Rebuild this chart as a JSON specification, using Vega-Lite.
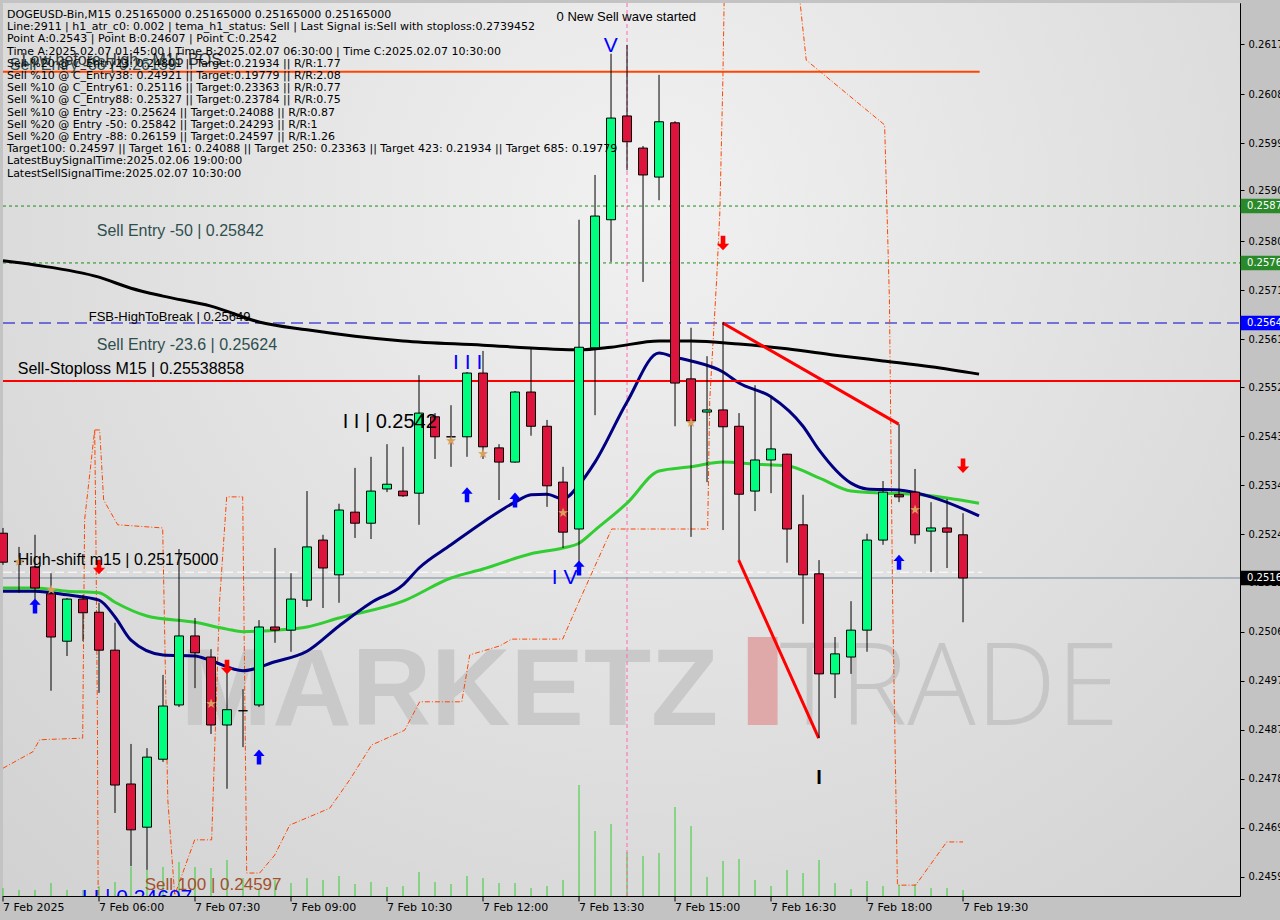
{
"$schema": "https://vega.github.io/schema/vega-lite/v6.json",
"width": 1237, "height": 893,
"autosize": {"type": "none"},
"padding": {"left": 3, "top": 3, "right": 40, "bottom": 24},
"background": "#c3c3c3",
"config": {"view": {"stroke": "#000000", "strokeWidth": 1, "fill": "#e3e3e3"}, "font": "Liberation Sans"},
"datasets": {
"candles": [
{"k":0,"o":0.25250,"h":0.25260,"l":0.25190,"c":0.25195},
{"k":1,"o":0.25197,"h":0.25224,"l":0.25137,"c":0.25196},
{"k":2,"o":0.25186,"h":0.25247,"l":0.25125,"c":0.25146},
{"k":3,"o":0.25135,"h":0.25174,"l":0.24951,"c":0.25053},
{"k":4,"o":0.25045,"h":0.25127,"l":0.25017,"c":0.25125},
{"k":5,"o":0.25125,"h":0.25133,"l":0.25045,"c":0.25099},
{"k":6,"o":0.25100,"h":0.25118,"l":0.24947,"c":0.25028},
{"k":7,"o":0.25028,"h":0.25080,"l":0.24719,"c":0.24772},
{"k":8,"o":0.24774,"h":0.24850,"l":0.24618,"c":0.24687},
{"k":9,"o":0.24692,"h":0.24842,"l":0.24611,"c":0.24825},
{"k":10,"o":0.24821,"h":0.24981,"l":0.24816,"c":0.24922},
{"k":11,"o":0.24924,"h":0.25220,"l":0.24920,"c":0.25055},
{"k":12,"o":0.25055,"h":0.25089,"l":0.24956,"c":0.25023},
{"k":13,"o":0.25015,"h":0.25030,"l":0.24869,"c":0.24886},
{"k":14,"o":0.24886,"h":0.24989,"l":0.24765,"c":0.24915},
{"k":15,"o":0.24913,"h":0.24954,"l":0.24844,"c":0.24913},
{"k":16,"o":0.24924,"h":0.25085,"l":0.24920,"c":0.25072},
{"k":17,"o":0.25072,"h":0.25222,"l":0.25042,"c":0.25066},
{"k":18,"o":0.25066,"h":0.25174,"l":0.25025,"c":0.25125},
{"k":19,"o":0.25123,"h":0.25330,"l":0.25110,"c":0.25224},
{"k":20,"o":0.25237,"h":0.25247,"l":0.25108,"c":0.25184},
{"k":21,"o":0.25171,"h":0.25306,"l":0.25118,"c":0.25294},
{"k":22,"o":0.25290,"h":0.25374,"l":0.25241,"c":0.25269},
{"k":23,"o":0.25269,"h":0.25395,"l":0.25239,"c":0.25330},
{"k":24,"o":0.25334,"h":0.25419,"l":0.25328,"c":0.25343},
{"k":25,"o":0.25330,"h":0.25414,"l":0.25319,"c":0.25321},
{"k":26,"o":0.25326,"h":0.25550,"l":0.25266,"c":0.25478},
{"k":27,"o":0.25471,"h":0.25478,"l":0.25391,"c":0.25433},
{"k":28,"o":0.25433,"h":0.25493,"l":0.25376,"c":0.25433},
{"k":29,"o":0.25433,"h":0.25556,"l":0.25395,"c":0.25554},
{"k":30,"o":0.25554,"h":0.25596,"l":0.25391,"c":0.25414},
{"k":31,"o":0.25412,"h":0.25419,"l":0.25313,"c":0.25385},
{"k":32,"o":0.25385,"h":0.25520,"l":0.25384,"c":0.25518},
{"k":33,"o":0.25518,"h":0.25602,"l":0.25435,"c":0.25453},
{"k":34,"o":0.25453,"h":0.25465,"l":0.25300,"c":0.25340},
{"k":35,"o":0.25347,"h":0.25376,"l":0.25222,"c":0.25252},
{"k":36,"o":0.25258,"h":0.25845,"l":0.25180,"c":0.25603},
{"k":37,"o":0.25602,"h":0.25930,"l":0.25474,"c":0.25852},
{"k":38,"o":0.25845,"h":0.26160,"l":0.25765,"c":0.26038},
{"k":39,"o":0.26042,"h":0.26177,"l":0.25939,"c":0.25993},
{"k":40,"o":0.25981,"h":0.25985,"l":0.25727,"c":0.25930},
{"k":41,"o":0.25926,"h":0.26120,"l":0.25882,"c":0.26031},
{"k":42,"o":0.26029,"h":0.26032,"l":0.25453,"c":0.25535},
{"k":43,"o":0.25543,"h":0.25640,"l":0.25243,"c":0.25463},
{"k":44,"o":0.25480,"h":0.25586,"l":0.25347,"c":0.25484},
{"k":45,"o":0.25484,"h":0.25651,"l":0.25256,"c":0.25452},
{"k":46,"o":0.25453,"h":0.25478,"l":0.25199,"c":0.25324},
{"k":47,"o":0.25330,"h":0.25531,"l":0.25292,"c":0.25389},
{"k":48,"o":0.25389,"h":0.25509,"l":0.25326,"c":0.25410},
{"k":49,"o":0.25400,"h":0.25401,"l":0.25194,"c":0.25258},
{"k":50,"o":0.25266,"h":0.25323,"l":0.25078,"c":0.25171},
{"k":51,"o":0.25173,"h":0.25199,"l":0.24861,"c":0.24983},
{"k":52,"o":0.24983,"h":0.25053,"l":0.24937,"c":0.25021},
{"k":53,"o":0.25015,"h":0.25121,"l":0.24983,"c":0.25066},
{"k":54,"o":0.25066,"h":0.25249,"l":0.25025,"c":0.25237},
{"k":55,"o":0.25237,"h":0.25349,"l":0.25228,"c":0.25328},
{"k":56,"o":0.25323,"h":0.25457,"l":0.25309,"c":0.25319},
{"k":57,"o":0.25328,"h":0.25372,"l":0.25230,"c":0.25247},
{"k":58,"o":0.25254,"h":0.25309,"l":0.25176,"c":0.25260},
{"k":59,"o":0.25260,"h":0.25315,"l":0.25184,"c":0.25252},
{"k":60,"o":0.25247,"h":0.25288,"l":0.25081,"c":0.25165}
],
"vol": [
{"k":0,"v":8},{"k":1,"v":6},{"k":2,"v":6},{"k":3,"v":13},{"k":4,"v":6},{"k":5,"v":6},{"k":6,"v":10},{"k":7,"v":14},{"k":8,"v":29},{"k":9,"v":26},
{"k":10,"v":29},{"k":11,"v":34},{"k":12,"v":29},{"k":13,"v":28},{"k":14,"v":36},{"k":15,"v":18},{"k":16,"v":6},{"k":17,"v":16},{"k":18,"v":13},{"k":19,"v":18},
{"k":20,"v":16},{"k":21,"v":20},{"k":22,"v":12},{"k":23,"v":14},{"k":24,"v":9},{"k":25,"v":10},{"k":26,"v":24},{"k":27,"v":14},{"k":28,"v":12},{"k":29,"v":20},
{"k":30,"v":18},{"k":31,"v":13},{"k":32,"v":13},{"k":33,"v":8},{"k":34,"v":10},{"k":35,"v":16},{"k":36,"v":111},{"k":37,"v":65},{"k":38,"v":72},{"k":39,"v":44},
{"k":40,"v":40},{"k":41,"v":43},{"k":42,"v":89},{"k":43,"v":70},{"k":44,"v":19},{"k":45,"v":35},{"k":46,"v":37},{"k":47,"v":16},{"k":48,"v":10},{"k":49,"v":26},
{"k":50,"v":23},{"k":51,"v":36},{"k":52,"v":13},{"k":53,"v":7},{"k":54,"v":15},{"k":55,"v":10},{"k":56,"v":11},{"k":57,"v":12},{"k":58,"v":8},{"k":59,"v":8},{"k":60,"v":6}
],
"ma200": [
{"k":0,"p":0.25767},{"k":2,"p":0.25759},{"k":6,"p":0.25736},{"k":8,"p":0.25715},{"k":10,"p":0.25700},{"k":13,"p":0.25681},{"k":16,"p":0.25651},{"k":19,"p":0.25636},{"k":22,"p":0.25624},{"k":25,"p":0.25615},{"k":30,"p":0.25607},{"k":34,"p":0.25600},{"k":36,"p":0.25598},{"k":38,"p":0.25603},{"k":41,"p":0.25615},{"k":43,"p":0.25615},{"k":46,"p":0.25609},{"k":49,"p":0.25600},{"k":52,"p":0.25588},{"k":55,"p":0.25577},{"k":58,"p":0.25566},{"k":61,"p":0.25552}
],
"manavy": [
{"k":0,"p":0.25140},{"k":2,"p":0.25140},{"k":4,"p":0.25133},{"k":6,"p":0.25123},{"k":7,"p":0.25091},{"k":8,"p":0.25047},{"k":10,"p":0.25019},{"k":12,"p":0.25017},{"k":13,"p":0.25008},{"k":15,"p":0.24989},{"k":17,"p":0.25006},{"k":19,"p":0.25026},{"k":21,"p":0.25074},{"k":23,"p":0.25118},{"k":25,"p":0.25152},{"k":26,"p":0.25184},{"k":28,"p":0.25228},{"k":30,"p":0.25271},{"k":32,"p":0.25309},{"k":33,"p":0.25323},{"k":34,"p":0.25324},{"k":35,"p":0.25315},{"k":36,"p":0.25342},{"k":37,"p":0.25385},{"k":39,"p":0.25499},{"k":41,"p":0.25592},{"k":42,"p":0.25584},{"k":43,"p":0.25577},{"k":45,"p":0.25556},{"k":46,"p":0.25535},{"k":48,"p":0.25509},{"k":50,"p":0.25453},{"k":51,"p":0.25408},{"k":53,"p":0.25345},{"k":54,"p":0.25334},{"k":56,"p":0.25332},{"k":58,"p":0.25319},{"k":61,"p":0.25283}
],
"magreen": [
{"k":0,"p":0.25146},{"k":2,"p":0.25146},{"k":4,"p":0.25140},{"k":6,"p":0.25137},{"k":7,"p":0.25119},{"k":9,"p":0.25093},{"k":12,"p":0.25081},{"k":14,"p":0.25068},{"k":15,"p":0.25063},{"k":17,"p":0.25066},{"k":19,"p":0.25072},{"k":21,"p":0.25089},{"k":25,"p":0.25121},{"k":28,"p":0.25165},{"k":30,"p":0.25182},{"k":33,"p":0.25211},{"k":35,"p":0.25222},{"k":36,"p":0.25231},{"k":37,"p":0.25256},{"k":39,"p":0.25307},{"k":41,"p":0.25368},{"k":43,"p":0.25376},{"k":45,"p":0.25385},{"k":47,"p":0.25381},{"k":49,"p":0.25378},{"k":51,"p":0.25355},{"k":53,"p":0.25330},{"k":55,"p":0.25326},{"k":57,"p":0.25324},{"k":59,"p":0.25317},{"k":61,"p":0.25307}
],
"band": [
{"s":"a","i":0,"k":0.0,"p":0.24804},{"s":"a","i":1,"k":1.86,"p":0.24835},{"s":"a","i":2,"k":2.29,"p":0.24858},{"s":"a","i":3,"k":4.98,"p":0.24861},{"s":"a","i":4,"k":5.1,"p":0.25275},{"s":"a","i":5,"k":5.73,"p":0.25446},{"s":"a","i":6,"k":6.04,"p":0.25446},{"s":"a","i":7,"k":6.29,"p":0.25313},{"s":"a","i":8,"k":7.17,"p":0.25266},{"s":"a","i":9,"k":9.98,"p":0.25260},
{"s":"a","i":10,"k":10.3,"p":0.24744},{"s":"a","i":11,"k":10.73,"p":0.24563},{"s":"a","i":12,"k":11.98,"p":0.24668},{"s":"a","i":13,"k":13.04,"p":0.24668},{"s":"a","i":14,"k":13.54,"p":0.25123},{"s":"a","i":15,"k":13.98,"p":0.25319},{"s":"a","i":16,"k":14.98,"p":0.25319},{"s":"a","i":17,"k":15.23,"p":0.24605},{"s":"a","i":18,"k":16.04,"p":0.24605},{"s":"a","i":19,"k":16.98,"p":0.24639},
{"s":"a","i":20,"k":17.92,"p":0.24696},{"s":"a","i":21,"k":20.42,"p":0.24728},{"s":"a","i":22,"k":21.67,"p":0.24782},{"s":"a","i":23,"k":23.04,"p":0.24848},{"s":"a","i":24,"k":25.1,"p":0.24876},{"s":"a","i":25,"k":26.04,"p":0.24930},{"s":"a","i":26,"k":28.67,"p":0.24930},{"s":"a","i":27,"k":29.17,"p":0.25019},{"s":"a","i":28,"k":31.04,"p":0.25036},{"s":"a","i":29,"k":31.79,"p":0.25049},
{"s":"a","i":30,"k":34.98,"p":0.25049},{"s":"a","i":31,"k":36.04,"p":0.25123},{"s":"a","i":32,"k":38.04,"p":0.25258},{"s":"a","i":33,"k":44.04,"p":0.25258},{"s":"a","i":34,"k":44.17,"p":0.25503},{"s":"a","i":35,"k":44.6,"p":0.25731},{"s":"a","i":36,"k":44.8,"p":0.25858},{"s":"a","i":37,"k":44.99,"p":0.26110},{"s":"a","i":38,"k":45.1,"p":0.26319},{"s":"a","i":39,"k":49.2,"p":0.26319},
{"s":"a","i":40,"k":49.8,"p":0.26262},{"s":"a","i":41,"k":50.2,"p":0.26148},{"s":"a","i":42,"k":55.1,"p":0.26025},{"s":"a","i":43,"k":55.4,"p":0.25693},{"s":"a","i":44,"k":55.6,"p":0.25123},{"s":"a","i":45,"k":55.9,"p":0.24582},{"s":"a","i":46,"k":57.04,"p":0.24582},{"s":"a","i":47,"k":58.98,"p":0.24664},{"s":"a","i":48,"k":60.0,"p":0.24664},
{"s":"b","i":0,"k":5.73,"p":0.25446},{"s":"b","i":1,"k":5.8,"p":0.25266},{"s":"b","i":2,"k":5.9,"p":0.24900},{"s":"b","i":3,"k":5.95,"p":0.24540}
],
"xlabels": [
{"k":0,"t":"7 Feb 2025"},{"k":6,"t":"7 Feb 06:00"},{"k":12,"t":"7 Feb 07:30"},{"k":18,"t":"7 Feb 09:00"},{"k":24,"t":"7 Feb 10:30"},{"k":30,"t":"7 Feb 12:00"},
{"k":36,"t":"7 Feb 13:30"},{"k":42,"t":"7 Feb 15:00"},{"k":48,"t":"7 Feb 16:30"},{"k":54,"t":"7 Feb 18:00"},{"k":60,"t":"7 Feb 19:30"}
]
},
"layer": [
{
"data": {"values": [{"k": 0, "k2": 77.31, "p": 0.245614, "p2": 0.262564}]},
"mark": {"type": "rect", "color": {"gradient": "radial", "x1": 0.52, "y1": 0.3, "r1": 0, "x2": 0.52, "y2": 0.3, "r2": 0.75, "stops": [{"offset": 0, "color": "#f1f1f1"}, {"offset": 1, "color": "#d2d2d2"}]}},
"encoding": {
"x": {"field": "k", "type": "quantitative", "scale": {"domain": [0, 77.31], "nice": false, "zero": false, "padding": 0}, "axis": null},
"x2": {"field": "k2"},
"y": {"field": "p", "type": "quantitative", "scale": {"domain": [0.245614, 0.262564], "nice": false, "zero": false}, "axis": null},
"y2": {"field": "p2"}
}
},
{
"data": {"name": "vol"},
"mark": {"type": "rule", "color": "#32cd32", "strokeWidth": 1},
"encoding": {
"x": {"field": "k", "type": "quantitative", "scale": {"domain": [0, 77.31], "nice": false, "zero": false, "padding": 0}, "axis": null},
"y": {"field": "v", "type": "quantitative", "scale": {"domain": [0, 893], "nice": false, "zero": false}, "axis": null},
"y2": {"datum": 0}
}
},
{
"data": {"name": "xlabels"},
"mark": {"type": "rule", "color": "#000000", "strokeWidth": 1},
"encoding": {
"x": {"field": "k", "type": "quantitative", "scale": {"domain": [0, 77.31], "nice": false, "zero": false, "padding": 0}, "axis": null},
"y": {"datum": 0.245614, "type": "quantitative", "scale": {"domain": [0.245614, 0.262564], "nice": false, "zero": false}, "axis": null},
"y2": {"datum": 0.24551}
}
},
{
"data": {"name": "xlabels"},
"mark": {"type": "text", "font": "DejaVu Sans", "fontSize": 11, "color": "#000000", "align": "left", "baseline": "top"},
"encoding": {
"x": {"field": "k", "type": "quantitative", "scale": {"domain": [0, 77.31], "nice": false, "zero": false, "padding": 0}, "axis": null},
"y": {"datum": 0.24550, "type": "quantitative", "scale": {"domain": [0.245614, 0.262564], "nice": false, "zero": false}, "axis": null},
"text": {"field": "t"}
}
},
{
"data": {"values": [{"k": 11.1, "p": 0.24886, "t": "MARKETZ"}]},
"mark": {"type": "text", "font": "Liberation Sans", "fontWeight": "bold", "fontSize": 110, "color": "#c9c9c9", "align": "left", "baseline": "alphabetic"},
"encoding": {
"x": {"field": "k", "type": "quantitative", "scale": {"domain": [0, 77.31], "nice": false, "zero": false, "padding": 0}, "axis": null},
"y": {"field": "p", "type": "quantitative", "scale": {"domain": [0.245614, 0.262564], "nice": false, "zero": false}, "axis": null},
"text": {"field": "t"}
}
},
{
"data": {"values": [{"k": 48.55, "p": 0.24886, "t": "TRADE"}]},
"mark": {"type": "text", "font": "Open Sans", "fontWeight": 300, "fontSize": 114, "color": "#c6c6c6", "align": "left", "baseline": "alphabetic"},
"encoding": {
"x": {"field": "k", "type": "quantitative", "scale": {"domain": [0, 77.31], "nice": false, "zero": false, "padding": 0}, "axis": null},
"y": {"field": "p", "type": "quantitative", "scale": {"domain": [0.245614, 0.262564], "nice": false, "zero": false}, "axis": null},
"text": {"field": "t"}
}
},
{
"data": {"values": [{"k": 46.55, "k2": 48.41, "p": 0.25053, "p2": 0.24886}]},
"mark": {"type": "rect", "color": "#dfa9a9"},
"encoding": {
"x": {"field": "k", "type": "quantitative", "scale": {"domain": [0, 77.31], "nice": false, "zero": false, "padding": 0}, "axis": null},
"x2": {"field": "k2"},
"y": {"field": "p", "type": "quantitative", "scale": {"domain": [0.245614, 0.262564], "nice": false, "zero": false}, "axis": null},
"y2": {"field": "p2"}
}
},
{
"data": {"values": [{"k": 39, "p": 0.245614, "p2": 0.262564}]},
"mark": {"type": "rule", "color": "#ff69b4", "strokeWidth": 1, "strokeDash": [4, 3]},
"encoding": {
"x": {"field": "k", "type": "quantitative", "scale": {"domain": [0, 77.31], "nice": false, "zero": false, "padding": 0}, "axis": null},
"y": {"field": "p", "type": "quantitative", "scale": {"domain": [0.245614, 0.262564], "nice": false, "zero": false}, "axis": null},
"y2": {"field": "p2"}
}
},
{
"data": {"values": [
{"k": 0, "k2": 77.31, "p": 0.25871},
{"k": 0, "k2": 77.31, "p": 0.25763}
]},
"mark": {"type": "rule", "color": "#1a8c1a", "strokeWidth": 1, "strokeDash": [3, 3]},
"encoding": {
"x": {"field": "k", "type": "quantitative", "scale": {"domain": [0, 77.31], "nice": false, "zero": false, "padding": 0}, "axis": null},
"x2": {"field": "k2"},
"y": {"field": "p", "type": "quantitative", "scale": {"domain": [0.245614, 0.262564], "nice": false, "zero": false}, "axis": null}
}
},
{
"data": {"values": [{"k": 0, "k2": 77.31, "p": 0.25649}]},
"mark": {"type": "rule", "color": "#0000cd", "strokeWidth": 1, "strokeDash": [12, 6]},
"encoding": {
"x": {"field": "k", "type": "quantitative", "scale": {"domain": [0, 77.31], "nice": false, "zero": false, "padding": 0}, "axis": null},
"x2": {"field": "k2"},
"y": {"field": "p", "type": "quantitative", "scale": {"domain": [0.245614, 0.262564], "nice": false, "zero": false}, "axis": null}
}
},
{
"data": {"values": [{"k": 0, "k2": 77.31, "p": 0.25165}]},
"mark": {"type": "rule", "color": "#778899", "strokeWidth": 1},
"encoding": {
"x": {"field": "k", "type": "quantitative", "scale": {"domain": [0, 77.31], "nice": false, "zero": false, "padding": 0}, "axis": null},
"x2": {"field": "k2"},
"y": {"field": "p", "type": "quantitative", "scale": {"domain": [0.245614, 0.262564], "nice": false, "zero": false}, "axis": null}
}
},
{
"data": {"values": [{"k": 0, "k2": 61.2, "p": 0.25176}]},
"mark": {"type": "rule", "color": "#ffffff", "strokeWidth": 1, "strokeDash": [9, 4]},
"encoding": {
"x": {"field": "k", "type": "quantitative", "scale": {"domain": [0, 77.31], "nice": false, "zero": false, "padding": 0}, "axis": null},
"x2": {"field": "k2"},
"y": {"field": "p", "type": "quantitative", "scale": {"domain": [0.245614, 0.262564], "nice": false, "zero": false}, "axis": null}
}
},
{
"data": {"name": "band"},
"mark": {"type": "line", "color": "#ff4500", "strokeWidth": 1, "strokeDash": [5, 2, 1, 2], "clip": true},
"encoding": {
"x": {"field": "k", "type": "quantitative", "scale": {"domain": [0, 77.31], "nice": false, "zero": false, "padding": 0}, "axis": null},
"y": {"field": "p", "type": "quantitative", "scale": {"domain": [0.245614, 0.262564], "nice": false, "zero": false}, "axis": null},
"detail": {"field": "s"},
"order": {"field": "i"}
}
},
{
"data": {"name": "ma200"},
"mark": {"type": "line", "color": "#000000", "strokeWidth": 3, "interpolate": "monotone"},
"encoding": {
"x": {"field": "k", "type": "quantitative", "scale": {"domain": [0, 77.31], "nice": false, "zero": false, "padding": 0}, "axis": null},
"y": {"field": "p", "type": "quantitative", "scale": {"domain": [0.245614, 0.262564], "nice": false, "zero": false}, "axis": null}
}
},
{
"data": {"name": "magreen"},
"mark": {"type": "line", "color": "#32cd32", "strokeWidth": 3, "interpolate": "monotone"},
"encoding": {
"x": {"field": "k", "type": "quantitative", "scale": {"domain": [0, 77.31], "nice": false, "zero": false, "padding": 0}, "axis": null},
"y": {"field": "p", "type": "quantitative", "scale": {"domain": [0.245614, 0.262564], "nice": false, "zero": false}, "axis": null}
}
},
{
"data": {"name": "manavy"},
"mark": {"type": "line", "color": "#000080", "strokeWidth": 3, "interpolate": "monotone"},
"encoding": {
"x": {"field": "k", "type": "quantitative", "scale": {"domain": [0, 77.31], "nice": false, "zero": false, "padding": 0}, "axis": null},
"y": {"field": "p", "type": "quantitative", "scale": {"domain": [0.245614, 0.262564], "nice": false, "zero": false}, "axis": null}
}
},
{
"data": {"values": [{"k": 0, "k2": 61.04, "p": 0.26126}]},
"mark": {"type": "rule", "color": "#ff4500", "strokeWidth": 2},
"encoding": {
"x": {"field": "k", "type": "quantitative", "scale": {"domain": [0, 77.31], "nice": false, "zero": false, "padding": 0}, "axis": null},
"x2": {"field": "k2"},
"y": {"field": "p", "type": "quantitative", "scale": {"domain": [0.245614, 0.262564], "nice": false, "zero": false}, "axis": null}
}
},
{
"data": {"values": [{"k": 0, "k2": 77.31, "p": 0.25539}]},
"mark": {"type": "rule", "color": "#ff0000", "strokeWidth": 2},
"encoding": {
"x": {"field": "k", "type": "quantitative", "scale": {"domain": [0, 77.31], "nice": false, "zero": false, "padding": 0}, "axis": null},
"x2": {"field": "k2"},
"y": {"field": "p", "type": "quantitative", "scale": {"domain": [0.245614, 0.262564], "nice": false, "zero": false}, "axis": null}
}
},
{
"data": {"values": [
{"k": 44.98, "p": 0.25649, "k2": 55.98, "p2": 0.25457},
{"k": 45.98, "p": 0.25199, "k2": 50.98, "p2": 0.24861}
]},
"mark": {"type": "rule", "color": "#ff0000", "strokeWidth": 3},
"encoding": {
"x": {"field": "k", "type": "quantitative", "scale": {"domain": [0, 77.31], "nice": false, "zero": false, "padding": 0}, "axis": null},
"x2": {"field": "k2"},
"y": {"field": "p", "type": "quantitative", "scale": {"domain": [0.245614, 0.262564], "nice": false, "zero": false}, "axis": null},
"y2": {"field": "p2"}
}
},
{
"data": {"name": "candles"},
"mark": {"type": "rule", "color": "#000000", "strokeWidth": 1},
"encoding": {
"x": {"field": "k", "type": "quantitative", "scale": {"domain": [0, 77.31], "nice": false, "zero": false, "padding": 0}, "axis": null},
"y": {"field": "l", "type": "quantitative", "scale": {"domain": [0.245614, 0.262564], "nice": false, "zero": false},
"axis": {"orient": "right", "title": null, "grid": false, "domain": false,
"values": [0.26178, 0.26083, 0.25990, 0.25901, 0.25804, 0.25711, 0.25618, 0.25527, 0.25434, 0.25341, 0.25248, 0.25156, 0.25063, 0.24970, 0.24877, 0.24784, 0.24691, 0.24598],
"format": ".5f", "labelFont": "DejaVu Sans", "labelFontSize": 10, "labelColor": "#000000", "tickColor": "#000000", "tickSize": 4, "labelPadding": 4, "labelOverlap": false, "labelFlush": false}},
"y2": {"field": "h"}
}
},
{
"data": {"name": "candles"},
"mark": {"type": "bar", "width": 9, "stroke": "#000000", "strokeWidth": 1},
"encoding": {
"x": {"field": "k", "type": "quantitative", "scale": {"domain": [0, 77.31], "nice": false, "zero": false, "padding": 0}, "axis": null},
"y": {"field": "o", "type": "quantitative", "scale": {"domain": [0.245614, 0.262564], "nice": false, "zero": false}, "axis": null},
"y2": {"field": "c"},
"fill": {"condition": {"test": "datum.c > datum.o", "value": "#00ff7f"}, "value": "#dc143c"}
}
},
{
"data": {"values": [
{"k": 2, "p": 0.25112}, {"k": 16, "p": 0.24825}, {"k": 29, "p": 0.25323}, {"k": 32, "p": 0.25313}, {"k": 36, "p": 0.25184}, {"k": 56, "p": 0.25195}
]},
"mark": {"type": "point", "filled": true, "color": "#0000ff", "opacity": 1, "size": 225, "shape": "M0,-1L0.75,-0.15L0.3,-0.15L0.3,1L-0.3,1L-0.3,-0.15L-0.75,-0.15Z"},
"encoding": {
"x": {"field": "k", "type": "quantitative", "scale": {"domain": [0, 77.31], "nice": false, "zero": false, "padding": 0}, "axis": null},
"y": {"field": "p", "type": "quantitative", "scale": {"domain": [0.245614, 0.262564], "nice": false, "zero": false}, "axis": null}
}
},
{
"data": {"values": [
{"k": 6, "p": 0.25186}, {"k": 14, "p": 0.24996}, {"k": 45, "p": 0.25801}, {"k": 60, "p": 0.25378}
]},
"mark": {"type": "point", "filled": true, "color": "#ff0000", "opacity": 1, "size": 210, "shape": "M0,1L0.85,0.1L0.32,0.1L0.32,-1L-0.32,-1L-0.32,0.1L-0.85,0.1Z"},
"encoding": {
"x": {"field": "k", "type": "quantitative", "scale": {"domain": [0, 77.31], "nice": false, "zero": false, "padding": 0}, "axis": null},
"y": {"field": "p", "type": "quantitative", "scale": {"domain": [0.245614, 0.262564], "nice": false, "zero": false}, "axis": null}
}
},
{
"data": {"values": [
{"k": 1, "p": 0.25195}, {"k": 3, "p": 0.25142}, {"k": 13, "p": 0.24926}, {"k": 28, "p": 0.25425}, {"k": 30, "p": 0.25400}, {"k": 35, "p": 0.25288}, {"k": 43, "p": 0.25459}, {"k": 57, "p": 0.25294}
]},
"mark": {"type": "text", "text": "★", "font": "DejaVu Sans", "fontSize": 13, "color": "#d9a05b", "baseline": "middle", "align": "center"},
"encoding": {
"x": {"field": "k", "type": "quantitative", "scale": {"domain": [0, 77.31], "nice": false, "zero": false, "padding": 0}, "axis": null},
"y": {"field": "p", "type": "quantitative", "scale": {"domain": [0.245614, 0.262564], "nice": false, "zero": false}, "axis": null}
}
},
{
"data": {"values": [
{"k": 1.17, "p": 0.26148, "t": "Low before High - M15 BOS"}
]},
"mark": {"type": "text", "font": "Liberation Sans", "fontSize": 16, "color": "#333333", "align": "left", "baseline": "middle"},
"encoding": {
"x": {"field": "k", "type": "quantitative", "scale": {"domain": [0, 77.31], "nice": false, "zero": false, "padding": 0}, "axis": null},
"y": {"field": "p", "type": "quantitative", "scale": {"domain": [0.245614, 0.262564], "nice": false, "zero": false}, "axis": null},
"text": {"field": "t"}
}
},
{
"data": {"values": [
{"k": 0.42, "p": 0.26139, "t": "Sell Entry -88 | 0.26159"},
{"k": 5.86, "p": 0.25824, "t": "Sell Entry -50 | 0.25842"},
{"k": 5.86, "p": 0.25607, "t": "Sell Entry -23.6 | 0.25624"}
]},
"mark": {"type": "text", "font": "Liberation Sans", "fontSize": 16, "color": "#2f4f4f", "align": "left", "baseline": "middle"},
"encoding": {
"x": {"field": "k", "type": "quantitative", "scale": {"domain": [0, 77.31], "nice": false, "zero": false, "padding": 0}, "axis": null},
"y": {"field": "p", "type": "quantitative", "scale": {"domain": [0.245614, 0.262564], "nice": false, "zero": false}, "axis": null},
"text": {"field": "t"}
}
},
{
"data": {"values": [
{"k": 0.92, "p": 0.25562, "t": "Sell-Stoploss M15 | 0.25538858"},
{"k": 0.92, "p": 0.25199, "t": "High-shift m15 | 0.25175000"}
]},
"mark": {"type": "text", "font": "Liberation Sans", "fontSize": 16, "color": "#000000", "align": "left", "baseline": "middle"},
"encoding": {
"x": {"field": "k", "type": "quantitative", "scale": {"domain": [0, 77.31], "nice": false, "zero": false, "padding": 0}, "axis": null},
"y": {"field": "p", "type": "quantitative", "scale": {"domain": [0.245614, 0.262564], "nice": false, "zero": false}, "axis": null},
"text": {"field": "t"}
}
},
{
"data": {"values": [
{"k": 5.36, "p": 0.25660, "t": "FSB-HighToBreak | 0.25649"},
{"k": 34.6, "p": 0.26230, "t": "0 New Sell wave started"}
]},
"mark": {"type": "text", "font": "Liberation Sans", "fontSize": 13, "color": "#000000", "align": "left", "baseline": "middle"},
"encoding": {
"x": {"field": "k", "type": "quantitative", "scale": {"domain": [0, 77.31], "nice": false, "zero": false, "padding": 0}, "axis": null},
"y": {"field": "p", "type": "quantitative", "scale": {"domain": [0.245614, 0.262564], "nice": false, "zero": false}, "axis": null},
"text": {"field": "t"}
}
},
{
"data": {"values": [
{"k": 8.86, "p": 0.24582, "t": "Sell 100 | 0.24597"}
]},
"mark": {"type": "text", "font": "Liberation Sans", "fontSize": 17, "color": "#a0522d", "align": "left", "baseline": "middle"},
"encoding": {
"x": {"field": "k", "type": "quantitative", "scale": {"domain": [0, 77.31], "nice": false, "zero": false, "padding": 0}, "axis": null},
"y": {"field": "p", "type": "quantitative", "scale": {"domain": [0.245614, 0.262564], "nice": false, "zero": false}, "axis": null},
"text": {"field": "t"}
}
},
{
"data": {"values": [
{"k": 37.98, "p": 0.26175, "t": "V"},
{"k": 29.04, "p": 0.25573, "t": "I I I"},
{"k": 35.1, "p": 0.25165, "t": "I V"}
]},
"mark": {"type": "text", "font": "Liberation Sans", "fontSize": 21, "color": "#0000ff", "align": "center", "baseline": "middle"},
"encoding": {
"x": {"field": "k", "type": "quantitative", "scale": {"domain": [0, 77.31], "nice": false, "zero": false, "padding": 0}, "axis": null},
"y": {"field": "p", "type": "quantitative", "scale": {"domain": [0.245614, 0.262564], "nice": false, "zero": false}, "axis": null},
"text": {"field": "t"}
}
},
{
"data": {"values": [
{"k": 4.92, "p": 0.24558, "t": "I I | 0.24607"}
]},
"mark": {"type": "text", "font": "Liberation Sans", "fontSize": 21, "color": "#0000ff", "align": "left", "baseline": "middle", "clip": true},
"encoding": {
"x": {"field": "k", "type": "quantitative", "scale": {"domain": [0, 77.31], "nice": false, "zero": false, "padding": 0}, "axis": null},
"y": {"field": "p", "type": "quantitative", "scale": {"domain": [0.245614, 0.262564], "nice": false, "zero": false}, "axis": null},
"text": {"field": "t"}
}
},
{
"data": {"values": [
{"k": 21.23, "p": 0.25461, "t": "I I | 0.2542"}
]},
"mark": {"type": "text", "font": "Liberation Sans", "fontSize": 20, "color": "#000000", "align": "left", "baseline": "middle"},
"encoding": {
"x": {"field": "k", "type": "quantitative", "scale": {"domain": [0, 77.31], "nice": false, "zero": false, "padding": 0}, "axis": null},
"y": {"field": "p", "type": "quantitative", "scale": {"domain": [0.245614, 0.262564], "nice": false, "zero": false}, "axis": null},
"text": {"field": "t"}
}
},
{
"data": {"values": [
{"k": 51.0, "p": 0.24785, "t": "I"}
]},
"mark": {"type": "text", "font": "Liberation Sans", "fontSize": 20, "fontWeight": "bold", "color": "#000000", "align": "center", "baseline": "middle"},
"encoding": {
"x": {"field": "k", "type": "quantitative", "scale": {"domain": [0, 77.31], "nice": false, "zero": false, "padding": 0}, "axis": null},
"y": {"field": "p", "type": "quantitative", "scale": {"domain": [0.245614, 0.262564], "nice": false, "zero": false}, "axis": null},
"text": {"field": "t"}
}
},
{
"data": {"values": [
{"k": 0.25, "p": 0.26245, "lines": [
"DOGEUSD-Bin,M15  0.25165000 0.25165000 0.25165000 0.25165000",
"Line:2911 | h1_atr_c0: 0.002 | tema_h1_status: Sell | Last Signal is:Sell with stoploss:0.2739452",
"Point A:0.2543 | Point B:0.24607 | Point C:0.2542",
"Time A:2025.02.07 01:45:00 | Time B:2025.02.07 06:30:00 | Time C:2025.02.07 10:30:00",
"Sell %20 @ C_Entry23: 0.24801 || Target:0.21934 || R/R:1.77",
"Sell %10 @ C_Entry38: 0.24921 || Target:0.19779 || R/R:2.08",
"Sell %10 @ C_Entry61: 0.25116 || Target:0.23363 || R/R:0.77",
"Sell %10 @ C_Entry88: 0.25327 || Target:0.23784 || R/R:0.75",
"Sell %10 @ Entry -23: 0.25624 || Target:0.24088 || R/R:0.87",
"Sell %20 @ Entry -50: 0.25842 || Target:0.24293 || R/R:1",
"Sell %20 @ Entry -88: 0.26159 || Target:0.24597 || R/R:1.26",
"Target100: 0.24597 || Target 161: 0.24088 || Target 250: 0.23363 || Target 423: 0.21934 || Target 685: 0.19779",
"LatestBuySignalTime:2025.02.06 19:00:00",
"LatestSellSignalTime:2025.02.07 10:30:00"
]}
]},
"mark": {"type": "text", "font": "DejaVu Sans", "fontSize": 11, "lineHeight": 12.2, "color": "#000000", "align": "left", "baseline": "top"},
"encoding": {
"x": {"field": "k", "type": "quantitative", "scale": {"domain": [0, 77.31], "nice": false, "zero": false, "padding": 0}, "axis": null},
"y": {"field": "p", "type": "quantitative", "scale": {"domain": [0.245614, 0.262564], "nice": false, "zero": false}, "axis": null},
"text": {"field": "lines"}
}
},
{
"data": {"values": [
{"k": 78.6, "p": 0.25871, "tag": "entry"},
{"k": 78.6, "p": 0.25763, "tag": "entry"},
{"k": 78.6, "p": 0.25649, "tag": "fsb"},
{"k": 78.6, "p": 0.25165, "tag": "bid"}
]},
"mark": {"type": "point", "filled": true, "opacity": 1, "size": 1600, "shape": "M-1,-0.36L1,-0.36L1,0.36L-1,0.36Z"},
"encoding": {
"x": {"field": "k", "type": "quantitative", "scale": {"domain": [0, 77.31], "nice": false, "zero": false, "padding": 0}, "axis": null},
"y": {"field": "p", "type": "quantitative", "scale": {"domain": [0.245614, 0.262564], "nice": false, "zero": false}, "axis": null},
"color": {"field": "tag", "type": "nominal", "scale": {"domain": ["entry", "fsb", "bid"], "range": ["#2a8a2a", "#0000ff", "#000000"]}, "legend": null}
}
},
{
"data": {"values": [
{"k": 77.75, "p": 0.25871, "t": "0.25871"},
{"k": 77.75, "p": 0.25763, "t": "0.25763"},
{"k": 77.75, "p": 0.25649, "t": "0.25649"},
{"k": 77.75, "p": 0.25165, "t": "0.25165"}
]},
"mark": {"type": "text", "font": "DejaVu Sans", "fontSize": 10, "color": "#ffffff", "align": "left", "baseline": "middle"},
"encoding": {
"x": {"field": "k", "type": "quantitative", "scale": {"domain": [0, 77.31], "nice": false, "zero": false, "padding": 0}, "axis": null},
"y": {"field": "p", "type": "quantitative", "scale": {"domain": [0.245614, 0.262564], "nice": false, "zero": false}, "axis": null},
"text": {"field": "t"}
}
}
],
"resolve": {"scale": {"y": "independent"}}
}
